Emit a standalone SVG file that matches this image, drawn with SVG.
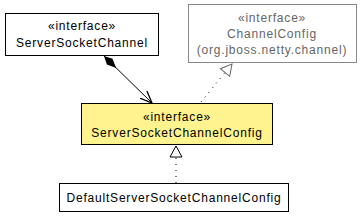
<svg xmlns="http://www.w3.org/2000/svg" width="361" height="216" viewBox="0 0 361 216">
<style>
text{font-family:"Liberation Sans",Arial,sans-serif;font-size:12px;text-anchor:middle;fill:#000;letter-spacing:0.8px}
.gray text{fill:#666}
.box{fill:#fff;stroke:#000;stroke-width:1}
.gbox{fill:#fff;stroke:#888;stroke-width:1}
.ybox{fill:#fff38f;stroke:#000;stroke-width:1}
.dot{fill:none;stroke:#000;stroke-width:1;stroke-dasharray:1,5}
</style>
<defs>
<marker id="diamond" markerWidth="20" markerHeight="12" refX="0" refY="6" orient="auto" markerUnits="userSpaceOnUse">
<path d="M0,6 L8,2 L17,6 L8,10 Z" fill="#000"/>
</marker>
<marker id="open" markerWidth="14" markerHeight="14" refX="12" refY="7" orient="auto" markerUnits="userSpaceOnUse">
<path d="M0,2 L12,7 L0,12" fill="none" stroke="#000" stroke-width="1.3"/>
</marker>
<marker id="tri" markerWidth="14" markerHeight="14" refX="12" refY="7" orient="auto" markerUnits="userSpaceOnUse">
<path d="M1,1 L12,7 L1,13 Z" fill="#fff" stroke="#000" stroke-width="1"/>
</marker>
<marker id="trig" markerWidth="14" markerHeight="14" refX="12" refY="7" orient="auto" markerUnits="userSpaceOnUse">
<path d="M1,1 L12,7 L1,13 Z" fill="#fff" stroke="#666" stroke-width="1"/>
</marker>
</defs>
<g id="connectors">
<path d="M104,56 L152,103" fill="none" stroke="#000" stroke-width="1" marker-start="url(#diamond)" marker-end="url(#open)"/>
<path class="dot" d="M201,102 L232,64" marker-end="url(#trig)"/>
<path class="dot" d="M176,183 L176,146" marker-end="url(#tri)"/>
</g>
<g id="ServerSocketChannel">
<rect class="box" x="5.5" y="13.5" width="153" height="42"/>
<text x="82" y="30">«interface»</text>
<text x="82" y="47">ServerSocketChannel</text>
</g>
<g id="ChannelConfig" class="gray">
<rect class="gbox" x="188.5" y="4.5" width="168" height="58"/>
<text x="272" y="22">«interface»</text>
<text x="272" y="38">ChannelConfig</text>
<text x="272" y="54">(org.jboss.netty.channel)</text>
</g>
<g id="ServerSocketChannelConfig">
<rect class="ybox" x="81.5" y="103.5" width="191" height="41"/>
<text x="177" y="121">«interface»</text>
<text x="177" y="137">ServerSocketChannelConfig</text>
</g>
<g id="DefaultServerSocketChannelConfig">
<rect class="box" x="59.5" y="183.5" width="229" height="28"/>
<text x="174" y="202">DefaultServerSocketChannelConfig</text>
</g>
</svg>
